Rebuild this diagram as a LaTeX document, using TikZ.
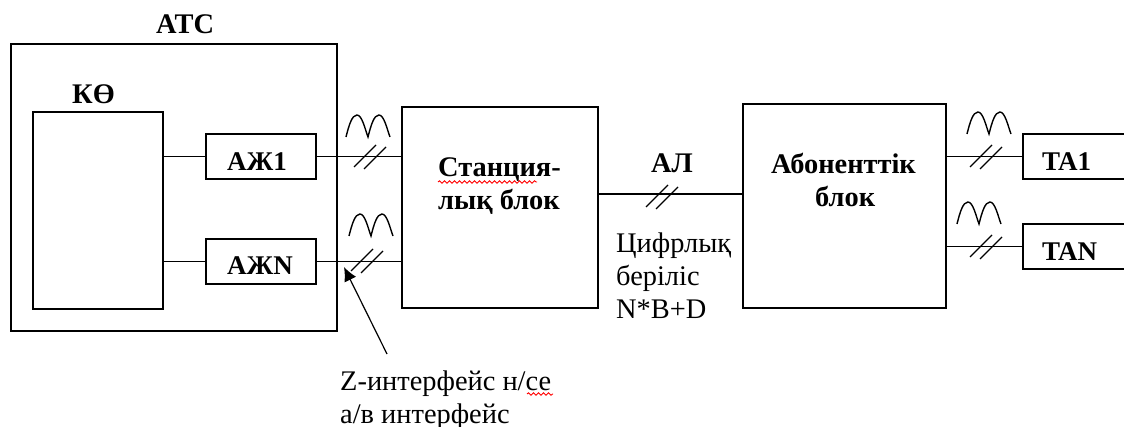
\documentclass[tikz,border=0pt]{standalone}
\usepackage{fontspec}
\setmainfont{Liberation Serif}
\usetikzlibrary{arrows.meta, decorations.pathmorphing}
\tikzset{
    box/.style={draw, line width=1.5pt, inner sep=0pt, outer sep=0pt, anchor=north west},
    wire/.style={line width=1.5pt},
    bold/.style={inner sep=0pt, anchor=base west, font=\fontsize{28.4}{32}\selectfont\bfseries},
    tag/.style={inner sep=0pt, anchor=base west, font=\fontsize{27}{30}\selectfont\bfseries},
    plain/.style={inner sep=0pt, anchor=base west, font=\fontsize{28.4}{32}\selectfont},
    spell/.style={red, line width=0.9pt, decorate, decoration={snake, amplitude=1.2pt, segment length=5pt}},
    wave/.pic={\draw[line width=1.4pt] (0,22) .. controls (3,10) and (6,0) .. (11,0)
        .. controls (16,0) and (19,14) .. (22,22) .. controls (25,10) and (28,0) .. (33,0)
        .. controls (38,0) and (41,14) .. (44,22);},
    slash/.pic={\draw[line width=1.2pt] (0,0) -- (22,-22) (10,2) -- (32,-20);}
}
\begin{document}
\begin{tikzpicture}[x=1pt, y=-1pt]
    \path[use as bounding box] (0,0) rectangle (1124,427);
    \clip (0,0) rectangle (1124,427);
    % boxes
    \node[box, minimum width=326pt, minimum height=287pt] (atc) at (11,44) {};
    \node[box, minimum width=130pt, minimum height=197pt] (ko) at (33,112) {};
    \node[box, minimum width=110pt, minimum height=45pt] (azh1) at (206,134) {};
    \node[box, minimum width=110pt, minimum height=45pt] (azhn) at (206,239) {};
    \node[box, minimum width=196pt, minimum height=201pt] (station) at (402,107) {};
    \node[box, minimum width=203pt, minimum height=204pt] (abonent) at (743,104) {};
    \node[box, minimum width=130pt, minimum height=45pt] (ta1) at (1023,134) {};
    \node[box, minimum width=130pt, minimum height=45pt] (tan) at (1023,224) {};
    % texts
    \node[bold] (atctext) at (156,34) {ATC};
    \node[bold] (kotext) at (72,104) {КӨ};
    \node[tag] (azh1text) at (227,171) {АЖ1};
    \node[tag] (azhntext) at (227,275) {АЖN};
    \node[bold] (st1text) at (438,177) {Станция-};
    \node[bold] (st2text) at (438,210) {лық блок};
    \node[bold] (altext) at (651,173) {АЛ};
    \node[bold] (ab1text) at (771,174) {Абоненттік};
    \node[bold] (ab2text) at (815,207) {блок};
    \node[tag] (ta1text) at (1042,171) {TA1};
    \node[tag] (tantext) at (1042,261) {TAN};
    \node[plain] (dig1text) at (616,253) {Цифрлық};
    \node[plain] (dig2text) at (616,286) {беріліс};
    \node[plain] (dig3text) at (616,319) {N*B+D};
    \node[plain] (z1text) at (340,390) {Z-интерфейс н/се};
    \node[plain] (z2text) at (340,423) {а/в интерфейс};
    % connectors
    \draw[wire] (ko.east |- azh1.west) -- (azh1.west);
    \draw[wire] (ko.east |- azhn.west) -- (azhn.west);
    \draw[wire] (azh1.east) -- (station.west |- azh1.east);
    \draw[wire] (azhn.east) -- (station.west |- azhn.east);
    \draw[wire] (station.east |- 0,194) -- (abonent.west |- 0,194);
    \draw[wire] (abonent.east |- ta1.west) -- (ta1.west);
    \draw[wire] (abonent.east |- tan.west) -- (tan.west);
    \coordinate (zfoot) at (387,354);
    \coordinate (ztip) at (344,267);
    \draw[line width=1.2pt, -{Latex[length=14pt, width=13pt]}] (zfoot) -- (ztip);
    % signal marks
    \pic at (346,115) {wave};
    \pic at (349,214) {wave};
    \pic at (967,112) {wave};
    \pic at (957,202) {wave};
    \pic at (354,167) {slash};
    \pic at (351,271) {slash};
    \pic at (646,207) {slash};
    \pic at (970,167) {slash};
    \pic at (970,257) {slash};
    % spell check marks
    \draw[spell] (438,182) -- (537,182);
    \draw[spell] (527,394) -- (553,394);
\end{tikzpicture}
\end{document}
